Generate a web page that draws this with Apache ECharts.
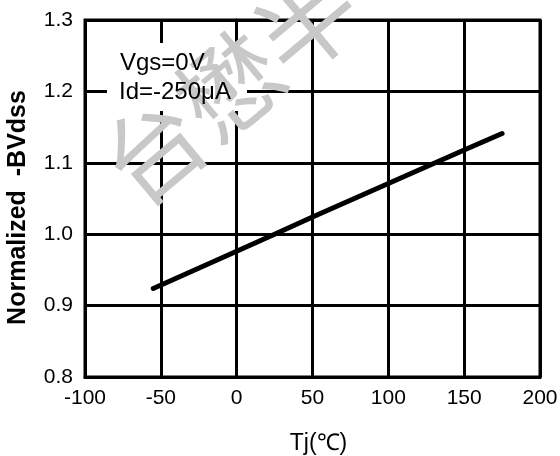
<!DOCTYPE html>
<html>
<head>
<meta charset="utf-8">
<script src="https://cdn.jsdelivr.net/npm/echarts@6/dist/echarts.min.js"></script>
<style>
html,body{margin:0;padding:0;background:#fff;}
#chart{width:560px;height:456px;}
</style>
</head>
<body>
<div id="chart"></div>
<script>
var tjValues = [-55, 0, 25, 50, 100, 150, 175];
var bvValues = [0.924, 0.976, 1.0, 1.024, 1.071, 1.118, 1.141];
var xTicks = [-100, -50, 0, 50, 100, 150, 200];
var yTicks = [0.8, 0.9, 1.0, 1.1, 1.2, 1.3];
var noteLines = ['Vgs=0V', 'Id=-250μA'];

var font = '"Liberation Sans", Arial, sans-serif';

var points = [];
for (var i = 0; i < tjValues.length; i++) {
	points.push([tjValues[i], bvValues[i]]);
}

var myChart = echarts.init(document.getElementById('chart'), null, {renderer: 'canvas'});
var option = {
	animation: false,
	backgroundColor: '#fff',
	grid: {
		left: 85, top: 20, right: 20, bottom: 79,
		outerBoundsMode: 'none',
		show: true, borderColor: '#000', borderWidth: 3, z: 3
	},
	xAxis: {
		type: 'value',
		min: xTicks[0], max: xTicks[xTicks.length - 1], interval: 50,
		name: 'Tj(℃)', nameLocation: 'middle', nameGap: 55,
		nameTextStyle: {fontFamily: font, fontSize: 23, color: '#000', padding: [0, 0, 0, 12]},
		axisLine: {show: true, lineStyle: {color: '#000', width: 3}},
		axisTick: {show: false},
		axisLabel: {
			fontFamily: font, fontSize: 21, color: '#000', margin: 11,
			formatter: function (v) { return xTicks.indexOf(v) >= 0 ? String(v) : ''; }
		},
		splitLine: {show: true, lineStyle: {color: '#000', width: 3}}
	},
	yAxis: {
		type: 'value',
		min: yTicks[0], max: yTicks[yTicks.length - 1], interval: 0.1,
		name: 'Normalized  -BVdss', nameLocation: 'middle', nameGap: 54,
		nameTextStyle: {fontFamily: font, fontSize: 25, fontWeight: 'bold', color: '#000', padding: [0, 18, 0, 0]},
		axisLine: {show: true, lineStyle: {color: '#000', width: 3}},
		axisTick: {show: false},
		axisLabel: {
			fontFamily: font, fontSize: 21, color: '#000', margin: 12,
			formatter: function (v) { return v.toFixed(1); }
		},
		splitLine: {show: true, lineStyle: {color: '#000', width: 3}}
	},
	graphic: [
		{
			type: 'rect', z: 10,
			shape: {x: 107, y: 43, width: 140, height: 68},
			style: {fill: '#fff'}
		},
		{
			// watermark, multiplied so the black lines stay black
			type: 'text', z: 11,
			x: 268, y: 54, rotation: 40 * Math.PI / 180,
			style: {
				text: '台懋半导', fill: '#c8c8c8', blend: 'multiply',
				font: '100px "Noto Sans CJK SC"',
				textAlign: 'center', textVerticalAlign: 'middle'
			}
		},
		{
			type: 'text', z: 12, x: 120, y: 63,
			style: {text: noteLines[0], fill: '#000', font: '24px ' + font, textVerticalAlign: 'middle'}
		},
		{
			type: 'text', z: 12, x: 119, y: 92,
			style: {text: noteLines[1], fill: '#000', font: '24px ' + font, textVerticalAlign: 'middle'}
		}
	],
	series: [{
		type: 'line',
		data: points,
		showSymbol: false,
		lineStyle: {color: '#000', width: 5, cap: 'round'},
		z: 5
	}]
};
myChart.setOption(option);
</script>
</body>
</html>
